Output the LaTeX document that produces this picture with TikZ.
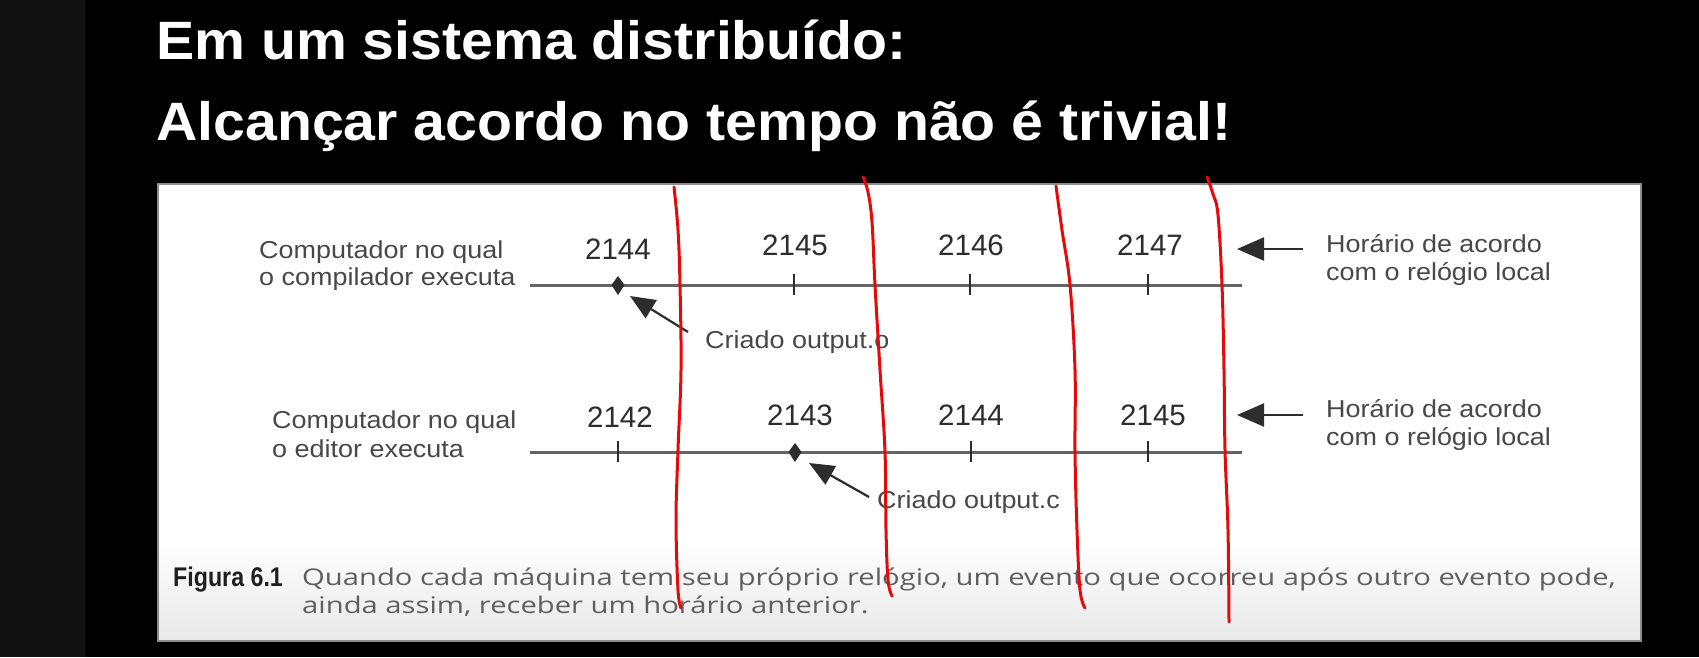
\documentclass[tikz,border=0pt]{standalone}
\usepackage{fontspec}
\setmainfont{Liberation Sans}
\newfontfamily\titlef{Liberation Sans}[FakeStretch=1.06]
\newfontfamily\labf{Liberation Sans}[FakeStretch=1.10]
\newfontfamily\numf{Liberation Sans}
\newfontfamily\figf{Liberation Sans}[FakeStretch=0.86]
\newfontfamily\capf{Open Sans}[FakeStretch=1.27]
\usetikzlibrary{arrows.meta}
\definecolor{redpen}{RGB}{228,10,10}
\definecolor{stripgray}{RGB}{18,18,18}
\definecolor{labgray}{RGB}{72,72,72}
\definecolor{numgray}{RGB}{45,45,45}
\definecolor{capgray}{RGB}{95,95,95}
\definecolor{linegray}{RGB}{100,100,100}
\definecolor{tickgray}{RGB}{45,45,45}
\definecolor{arrgray}{RGB}{45,45,45}
\begin{document}
\begin{tikzpicture}[x=1pt,y=-1pt,
  ttl/.style={anchor=base west, inner sep=0pt, text=white, font=\titlef\bfseries\fontsize{54}{60}\selectfont},
  lab/.style={anchor=base west, inner sep=0pt, text=labgray, font=\labf\fontsize{24.5}{28}\selectfont},
  num/.style={anchor=base, inner sep=0pt, text=numgray, font=\numf\fontsize{29.5}{32}\selectfont},
  captxt/.style={anchor=base west, inner sep=0pt, text=capgray, font=\capf\fontsize{23}{28}\selectfont},
  figlab/.style={anchor=base west, inner sep=0pt, text=black!88, font=\figf\bfseries\fontsize{27}{30}\selectfont},
  timeline/.style={draw=linegray, line width=3pt},
  tickmark/.style={draw=tickgray, line width=2pt},
  ptr/.style={draw=arrgray, line width=2.2pt, -{Triangle[length=25pt,width=21pt]}},
  bigptr/.style={draw=arrgray, line width=2.2pt, -{Triangle[length=27pt,width=23pt]}},
  redmark/.style={draw=redpen, line width=3pt, line cap=round, line join=round}]
\useasboundingbox (0,0) rectangle (1699,657);
% background
\fill[black] (0,0) rectangle (1699,657);
\fill[stripgray] (0,0) rectangle (85,657);
% title
\node[ttl] (t1) at (156,59) {Em um sistema distribuído:};
\node[ttl] (t2) at (156,140) {Alcançar acordo no tempo não é trivial!};
% panel
\fill[white] (158,184) rectangle (1641,641);
\shade[top color=white, bottom color=black!9] (158,540) rectangle (1641,641);
\draw[black!45, line width=1.5pt] (158,184) rectangle (1641,641);
% ---------- top timeline ----------
\coordinate (a0) at (530,285);
\coordinate (a5) at (1242,285);
\draw[timeline] (a0) -- (a5);
\coordinate (a1) at (618,285);
\coordinate (a2) at (794,285);
\coordinate (a3) at (970,285);
\coordinate (a4) at (1148,285);
\fill[tickgray] (618,276) -- (624.5,285) -- (618,295) -- (611.5,285) -- cycle;
\foreach \p in {a2,a3,a4} \draw[tickmark] ([yshift=-10pt]\p) -- ([yshift=11pt]\p);
\node[num] (n11) at (618,259) {2144};
\node[num] (n12) at (795,255) {2145};
\node[num] (n13) at (971,255) {2146};
\node[num] (n14) at (1150,255) {2147};
\node[lab] (l1a) at (259,258) {Computador no qual};
\node[lab] (l1b) at (259,285) {o compilador executa};
\node[lab] (r1a) at (1326,252) {Horário de acordo};
\node[lab] (r1b) at (1326,280) {com o relógio local};
\coordinate (r1t) at (1303,249);
\coordinate (r1h) at (1237,249);
\draw[bigptr] (r1t) -- (r1h);
\node[lab] (c1) at (705,348) {Criado output.o};
\coordinate (c1t) at (688,332);
\coordinate (c1h) at (630,296);
\draw[ptr] (c1t) -- (c1h);
% ---------- bottom timeline ----------
\coordinate (b0) at (530,452);
\coordinate (b5) at (1242,452);
\draw[timeline] (b0) -- (b5);
\coordinate (b1) at (618,452);
\coordinate (b2) at (795,452);
\coordinate (b3) at (971,452);
\coordinate (b4) at (1148,452);
\fill[tickgray] (795,443) -- (801.5,452) -- (795,462) -- (788.5,452) -- cycle;
\foreach \p in {b1,b3,b4} \draw[tickmark] ([yshift=-10pt]\p) -- ([yshift=11pt]\p);
\node[num] (n21) at (620,427) {2142};
\node[num] (n22) at (800,425) {2143};
\node[num] (n23) at (971,425) {2144};
\node[num] (n24) at (1153,425) {2145};
\node[lab] (l2a) at (272,428) {Computador no qual};
\node[lab] (l2b) at (272,457) {o editor executa};
\node[lab] (r2a) at (1326,417) {Horário de acordo};
\node[lab] (r2b) at (1326,445) {com o relógio local};
\coordinate (r2t) at (1303,415);
\coordinate (r2h) at (1237,415);
\draw[bigptr] (r2t) -- (r2h);
\node[lab] (c2) at (877,508) {Criado output.c};
\coordinate (c2t) at (869,497);
\coordinate (c2h) at (809,463);
\draw[ptr] (c2t) -- (c2h);
% ---------- caption ----------
\node[figlab] (fig) at (173,586) {Figura 6.1};
\node[captxt] (cap1) at (302,585) {Quando cada máquina tem seu próprio relógio, um evento que ocorreu após outro evento pode,};
\node[captxt] (cap2) at (302,613) {ainda assim, receber um horário anterior.};
% ---------- red hand-drawn marks ----------
\draw[redmark] plot[smooth, tension=0.6] coordinates {(674,187) (678,230) (680,285) (681,370) (678,450) (676,520) (678,590) (681,608)};
\draw[redmark] plot[smooth, tension=0.6] coordinates {(863,177) (868,192) (872,222) (875,285) (880,370) (885,452) (886,530) (888,580) (892,596)};
\draw[redmark] plot[smooth, tension=0.6] coordinates {(1056,186) (1062,230) (1070,285) (1075,370) (1075,452) (1077,530) (1080,590) (1085,608)};
\draw[redmark] plot[smooth, tension=0.6] coordinates {(1207,177) (1213,194) (1218,215) (1222,285) (1224,370) (1225,450) (1228,530) (1229,622)};
\end{tikzpicture}
\end{document}
